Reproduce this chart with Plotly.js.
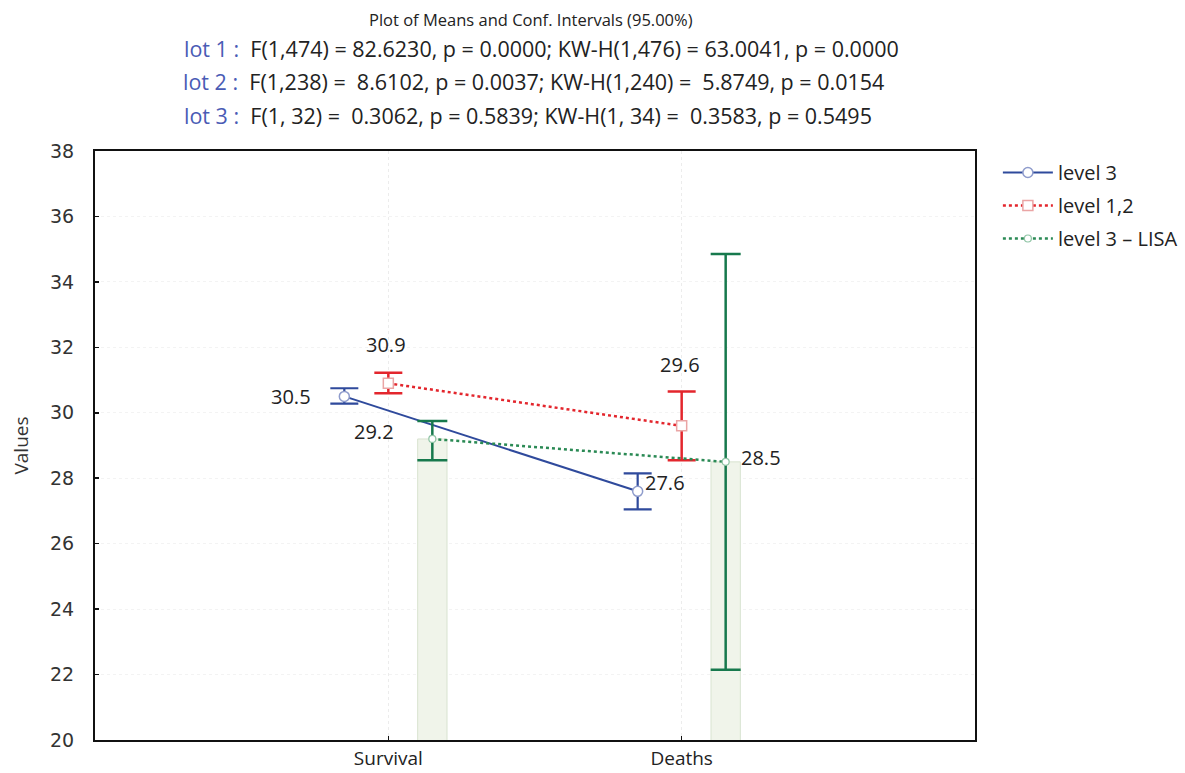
<!DOCTYPE html>
<html>
<head>
<meta charset="utf-8">
<script src="https://cdn.plot.ly/plotly-3.0.1.min.js"></script>
<style>html,body{margin:0;padding:0;background:#fff;}#chart{width:1185px;height:773px;}</style>
</head>
<body>
<div id="chart"></div>
<script>
// ---- data ----
var categories = ['Survival', 'Deaths'];
var seriesNames = ['level 3', 'level 1,2', 'level 3 – LISA'];
var level3Mean  = [30.5, 27.6];
var level3Upper = [30.75, 28.15];
var level3Lower = [30.28, 27.05];
var level12Mean  = [30.9, 29.6];
var level12Upper = [31.22, 30.65];
var level12Lower = [30.6, 28.55];
var lisaMean  = [29.2, 28.5];
var lisaUpper = [29.75, 34.85];
var lisaLower = [28.55, 22.15];
var titleText = 'Plot of Means and Conf. Intervals (95.00%)';
var lotLabels = ['lot 1 :', 'lot 2 :', 'lot 3 :'];
var lotStats = [
  'F(1,474) = 82.6230, p = 0.0000; KW-H(1,476) = 63.0041, p = 0.0000',
  'F(1,238) =  8.6102, p = 0.0037; KW-H(1,240) =  5.8749, p = 0.0154',
  'F(1, 32) =  0.3062, p = 0.5839; KW-H(1, 34) =  0.3583, p = 0.5495'
];
var yTicks = [20, 22, 24, 26, 28, 30, 32, 34, 36, 38];

// ---- styling ----
var BLUE = '#2f4a9c', RED = '#e3262d', GREEN = '#17794d';
var FONT = 'Open Sans, sans-serif';
var offsets = [-0.15, 0, 0.15];
function xs(off) { return categories.map(function (c, i) { return i + off; }); }
function plus(m, u) { return m.map(function (v, i) { return u[i] - v; }); }
function minus(m, l) { return m.map(function (v, i) { return v - l[i]; }); }

var traces = [
  {
    type: 'bar', x: xs(offsets[2]), y: lisaMean, width: 0.1,
    marker: {color: '#f0f4ea', line: {color: '#d8e3d0', width: 1}},
    showlegend: false, hoverinfo: 'skip'
  },
  {
    type: 'scatter', mode: 'lines+markers', name: seriesNames[0], legendgroup: 'a',
    x: xs(offsets[0]), y: level3Mean,
    line: {color: BLUE, width: 2},
    marker: {symbol: 'circle', size: 10, color: '#ffffff', line: {color: '#8f9ccc', width: 1.5}},
    error_y: {type: 'data', symmetric: false, array: plus(level3Mean, level3Upper), arrayminus: minus(level3Mean, level3Lower), color: BLUE, thickness: 2.2, width: 14}
  },
  {
    type: 'scatter', mode: 'lines+markers', name: seriesNames[1], legendgroup: 'b',
    x: xs(offsets[1]), y: level12Mean,
    line: {color: RED, width: 2.5, dash: 'dot'},
    marker: {symbol: 'square', size: 10, color: '#ffffff', line: {color: '#eaa5a5', width: 1.5}},
    error_y: {type: 'data', symmetric: false, array: plus(level12Mean, level12Upper), arrayminus: minus(level12Mean, level12Lower), color: RED, thickness: 2.5, width: 14}
  },
  {
    type: 'scatter', mode: 'lines+markers', name: seriesNames[2], legendgroup: 'c',
    x: xs(offsets[2]), y: lisaMean,
    line: {color: '#2b8a55', width: 2.5, dash: 'dot'},
    marker: {symbol: 'circle', size: 7, color: '#ffffff', line: {color: '#8fc4a5', width: 1.2}},
    error_y: {type: 'data', symmetric: false, array: plus(lisaMean, lisaUpper), arrayminus: minus(lisaMean, lisaLower), color: GREEN, thickness: 2.5, width: 15}
  }
];

// value labels
var labelSpecs = [
  {x: offsets[0], y: level3Mean[0], xa: 'right', ya: 'middle', dx: -31, dy: 0},
  {x: offsets[1], y: level12Mean[0], xa: 'center', ya: 'bottom', dx: -2, dy: 23},
  {x: offsets[2], y: lisaMean[0], xa: 'right', ya: 'middle', dx: -36, dy: 7},
  {x: 1 + offsets[1], y: level12Mean[1], xa: 'center', ya: 'bottom', dx: -2, dy: 46},
  {x: 1 + offsets[0], y: level3Mean[1], xa: 'left', ya: 'middle', dx: 5, dy: 9},
  {x: 1 + offsets[2], y: lisaMean[1], xa: 'left', ya: 'middle', dx: 13, dy: 4}
];
var annotations = labelSpecs.map(function (s) {
  return {x: s.x, y: s.y, xref: 'x', yref: 'y', text: s.y.toFixed(1), showarrow: false,
    xanchor: s.xa, yanchor: s.ya, xshift: s.dx, yshift: s.dy,
    font: {family: FONT, size: 20, color: '#222'}};
});

// title block (paper coords; plot top at 151px, height 589px)
function py(px) { return 1 + (151 - px) / 589; }
annotations.push({xref: 'paper', yref: 'paper', x: (531 - 95) / 880, y: py(19), xanchor: 'center', yanchor: 'middle',
  showarrow: false, text: titleText, font: {family: FONT, size: 16.5, color: '#222'}});
var lineY = [48, 81, 115];
var lineX = [541, 533, 528];
lotLabels.forEach(function (lab, i) {
  annotations.push({xref: 'paper', yref: 'paper', x: (lineX[i] - 95) / 880, y: py(lineY[i]), xanchor: 'center', yanchor: 'middle',
    showarrow: false,
    text: '<span style="color:#4a5bb5">' + lab + '</span>&nbsp; ' + lotStats[i].replace(/  /g, '&nbsp; '),
    font: {family: FONT, size: 21.5, color: '#222'}});
});

var layout = {
  width: 1185, height: 773,
  margin: {l: 95, r: 210, t: 151, b: 33, pad: 0, autoexpand: false},
  paper_bgcolor: '#ffffff', plot_bgcolor: '#ffffff',
  font: {family: FONT, color: '#222'},
  xaxis: {
    range: [-1, 2], tickvals: [0, 1], ticktext: categories,
    showline: true, linecolor: '#111', linewidth: 2, mirror: true,
    ticks: 'inside', ticklen: 4, tickcolor: '#111', tickwidth: 1.5,
    showgrid: true, gridcolor: '#ececec', griddash: 'dot', gridwidth: 1,
    zeroline: false, tickfont: {size: 19, color: '#222'}, ticklabelstandoff: 0
  },
  yaxis: {
    range: [20, 38], tickvals: yTicks,
    showline: true, linecolor: '#111', linewidth: 2, mirror: true,
    ticks: 'inside', ticklen: 4, tickcolor: '#111', tickwidth: 1.5,
    showgrid: true, gridcolor: '#f3f3f3', griddash: 'dot', gridwidth: 1,
    zeroline: false, tickfont: {family: 'DejaVu Sans, sans-serif', size: 19, color: '#333'},
    ticklabelstandoff: 15,
    title: {text: 'Values', font: {size: 19, color: '#333'}, standoff: 16}
  },
  legend: {
    x: 1.026, y: 1 - 2 / 589, xanchor: 'left', yanchor: 'top',
    font: {size: 20, color: '#222'}, itemwidth: 50,
    traceorder: 'grouped', tracegroupgap: 4,
    bgcolor: 'rgba(0,0,0,0)'
  },
  annotations: annotations,
  bargap: 0
};

Plotly.newPlot('chart', traces, layout, {displayModeBar: false, staticPlot: true});
</script>
</body>
</html>
